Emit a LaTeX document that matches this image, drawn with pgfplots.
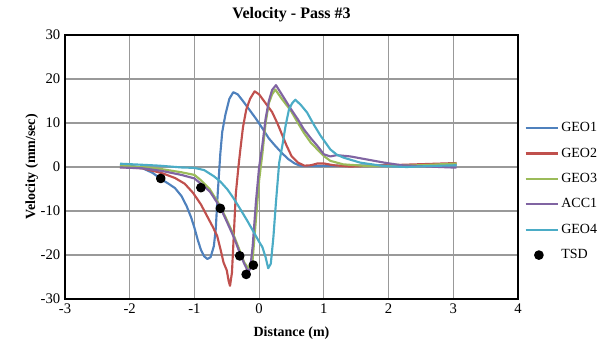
\documentclass[border=0pt]{standalone}
\usepackage{pgfplots}
\pgfplotsset{compat=1.18}
\usepackage{fontspec}
\setmainfont{Liberation Serif}
\definecolor{cGeoA}{HTML}{4F81BD}
\definecolor{cGeoB}{HTML}{C0504D}
\definecolor{cGeoC}{HTML}{9BBB59}
\definecolor{cAcc}{HTML}{8064A2}
\definecolor{cGeoD}{HTML}{4BACC6}
\pgfplotsset{
  linelegend/.style={legend image code/.code={\draw[##1] (0pt,0pt) -- (24pt,0pt);}},
  dotlegend/.style={legend image code/.code={\draw[##1] plot coordinates {(10pt,0pt)};}},
}
\begin{document}
\begin{tikzpicture}[x=1pt,y=1pt]
\useasboundingbox (-48.75,-35.25) rectangle (399,224.25);
\begin{axis}[
  at={(0,0)}, anchor=south west,
  scale only axis, width=339.75pt, height=198pt,
  xmin=-3, xmax=4, ymin=-30, ymax=30,
  xtick={-3,...,4}, ytick={-30,-20,...,30},
  grid=major, major grid style={color=black!40, line width=0.9pt},
  axis line style={line width=1pt},
  tick style={draw=none},
  /pgf/number format/assume math mode=true,
  ticklabel style={font=\fontsize{11}{13}\selectfont},
  title={\textbf{Velocity - Pass \#3}},
  title style={font=\fontsize{12}{14}\selectfont, yshift=0pt},
  xlabel={\textbf{Distance (m)}},
  ylabel={\textbf{Velocity (mm/sec)}},
  label style={font=\fontsize{10.5}{12}\selectfont},
  xlabel style={yshift=-3pt},
  ylabel style={yshift=-5pt},
  legend style={at={(1.005,0.69)}, anchor=north west, draw=none, fill=none,
    font=\fontsize{10.5}{12}\selectfont, row sep=6.6pt},
  legend cell align=left,
  every axis plot/.append style={line width=1.6pt, line join=round},
]
\addplot[cGeoA, no markers, linelegend] coordinates {
(-2.15,0.5) (-2.0,0.4) (-1.8,-0.3) (-1.65,-1.3) (-1.5,-2.9) (-1.4,-3.8) (-1.3,-4.8) (-1.2,-6.6) (-1.12,-8.9) (-1.05,-11.5) (-1.0,-13.8) (-0.95,-16.5) (-0.9,-18.8) (-0.85,-20.3) (-0.8,-20.9) (-0.75,-20.5) (-0.7,-18.0) (-0.67,-14.0) (-0.64,-6.0) (-0.6,3.0) (-0.57,8.0) (-0.52,12.0) (-0.46,15.5) (-0.4,17.0) (-0.33,16.5) (-0.25,15.0) (-0.15,13.0) (-0.05,11.0) (0.05,8.8) (0.15,6.5) (0.25,4.8) (0.35,3.2) (0.45,1.8) (0.55,0.8) (0.65,0.2) (0.8,0.2) (1.2,0.3) (2.0,0.4) (3.05,0.4)
};
\addlegendentry{GEO1}
\addplot[cGeoB, no markers, linelegend] coordinates {
(-2.15,0.0) (-1.8,-0.3) (-1.5,-1.4) (-1.3,-2.5) (-1.15,-3.8) (-1.02,-5.9) (-0.9,-8.5) (-0.81,-11.0) (-0.72,-13.5) (-0.65,-15.6) (-0.6,-18.5) (-0.55,-21.7) (-0.5,-23.5) (-0.47,-26.0) (-0.45,-27.0) (-0.42,-24.0) (-0.39,-15.0) (-0.36,-6.0) (-0.32,0.0) (-0.29,4.0) (-0.25,9.0) (-0.2,13.0) (-0.14,15.5) (-0.07,17.2) (0.0,16.5) (0.1,14.5) (0.2,12.5) (0.28,10.0) (0.35,7.5) (0.42,5.0) (0.5,2.5) (0.6,1.0) (0.7,0.3) (0.8,0.4) (0.9,0.8) (1.0,0.8) (1.15,0.4) (1.4,0.1) (2.0,0.4) (3.05,0.9)
};
\addlegendentry{GEO2}
\addplot[cGeoC, no markers, linelegend] coordinates {
(-2.15,0.3) (-1.8,0.0) (-1.5,-0.5) (-1.2,-1.2) (-1.0,-1.8) (-0.9,-3.0) (-0.76,-5.1) (-0.6,-8.9) (-0.5,-12.0) (-0.39,-15.6) (-0.3,-19.0) (-0.23,-21.7) (-0.16,-23.2) (-0.1,-21.0) (-0.05,-12.0) (0.0,-3.0) (0.05,3.0) (0.1,10.0) (0.15,14.5) (0.2,16.5) (0.25,17.6) (0.35,15.5) (0.49,12.8) (0.6,10.0) (0.69,7.8) (0.8,5.5) (0.9,4.0) (1.0,2.5) (1.1,1.4) (1.3,0.6) (1.7,0.2) (2.5,0.4) (3.05,0.8)
};
\addlegendentry{GEO3}
\addplot[cAcc, no markers, linelegend] coordinates {
(-2.15,-0.1) (-1.8,-0.3) (-1.5,-0.9) (-1.2,-1.8) (-1.0,-2.6) (-0.9,-3.8) (-0.76,-5.6) (-0.6,-9.2) (-0.5,-12.4) (-0.39,-16.0) (-0.3,-19.5) (-0.23,-22.0) (-0.18,-23.5) (-0.14,-23.3) (-0.1,-18.0) (-0.05,-8.0) (0.0,0.0) (0.05,5.0) (0.1,11.0) (0.15,15.0) (0.2,17.5) (0.26,18.6) (0.35,16.5) (0.49,13.2) (0.6,10.8) (0.69,8.6) (0.8,6.5) (0.9,4.8) (1.0,2.9) (1.1,2.4) (1.2,2.7) (1.41,2.4) (1.67,1.7) (1.93,1.0) (2.2,0.4) (2.45,0.2) (3.05,-0.15)
};
\addlegendentry{ACC1}
\addplot[cGeoD, no markers, linelegend] coordinates {
(-2.15,0.75) (-1.8,0.5) (-1.54,0.3) (-1.2,-0.1) (-1.0,-0.2) (-0.85,-0.7) (-0.7,-2.1) (-0.6,-3.3) (-0.49,-5.1) (-0.4,-7.0) (-0.29,-9.6) (-0.18,-12.3) (-0.08,-14.9) (0.0,-17.0) (0.05,-18.2) (0.1,-20.5) (0.14,-23.0) (0.18,-22.0) (0.22,-16.0) (0.26,-8.0) (0.31,1.0) (0.36,5.0) (0.41,9.5) (0.46,13.0) (0.51,14.5) (0.56,15.3) (0.65,14.0) (0.74,12.4) (0.85,9.5) (0.95,7.1) (1.1,4.0) (1.2,2.8) (1.31,2.1) (1.56,1.0) (1.93,0.2) (2.28,0.0) (2.6,0.2) (3.05,0.4)
};
\addlegendentry{GEO4}
\addplot[only marks, mark=*, mark size=2.8pt, black, dotlegend] coordinates {
(-1.52,-2.6) (-0.90,-4.7) (-0.60,-9.4) (-0.30,-20.2) (-0.20,-24.4) (-0.09,-22.3)
};
\addlegendentry{TSD}
\end{axis}
\end{tikzpicture}
\end{document}
